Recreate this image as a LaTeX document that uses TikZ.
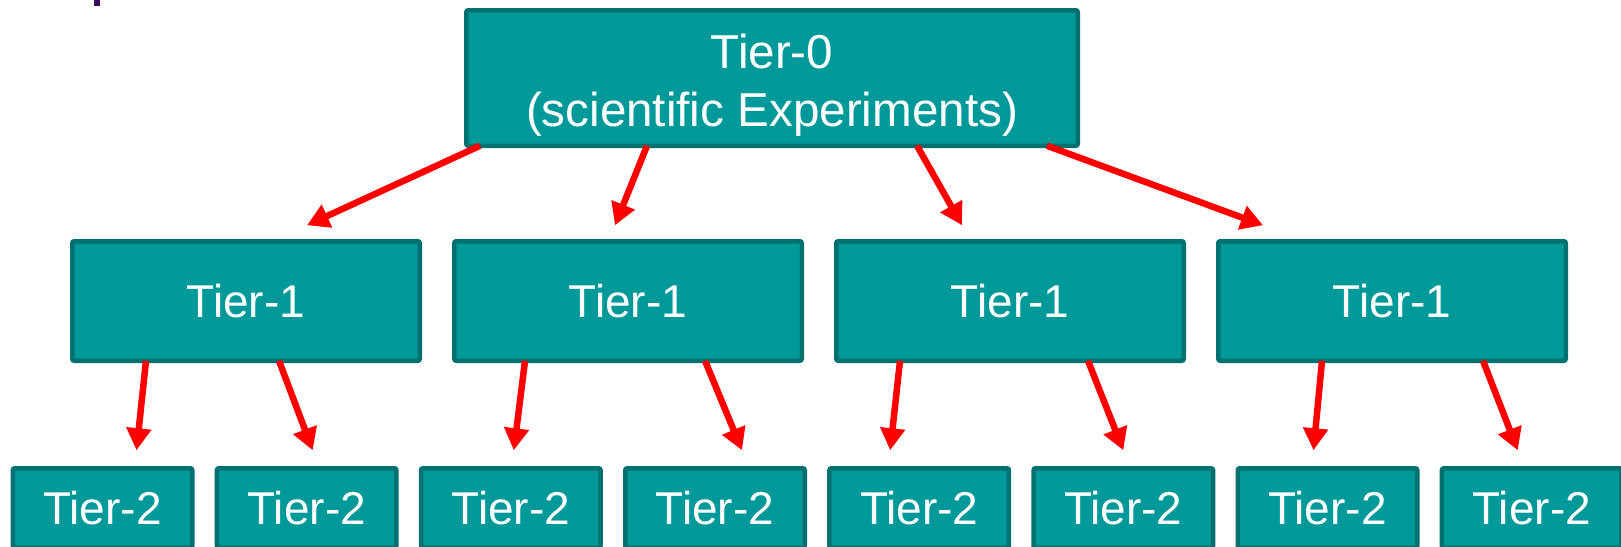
\documentclass[tikz,border=0pt]{standalone}
\usepackage{fontspec}
\setmainfont{Liberation Sans}
\usetikzlibrary{arrows.meta}
\definecolor{tierfill}{RGB}{0,153,153}
\definecolor{tierline}{RGB}{0,112,112}
\definecolor{titlepurple}{RGB}{58,10,92}

\begin{document}
\begin{tikzpicture}[x=0.5pt,y=-0.5pt,
  tier/.style={draw=tierline,fill=tierfill,line width=2.25pt,rounded corners=1pt,
    text=white,font=\fontsize{23pt}{28.5pt}\selectfont,inner sep=0pt,outer sep=0pt},
  tierzero/.style={tier,minimum width=305.75pt,minimum height=67.75pt},
  tierone/.style={tier,minimum width=173.75pt,minimum height=59.75pt},
  tiertwo/.style={tier,minimum width=89.75pt,minimum height=39.75pt},
  tiertext/.style={text=white,font=\fontsize{23.8pt}{29pt}\selectfont,align=center},
  link/.style={red,line width=3.25pt,-{Triangle[length=11pt,width=12pt]}}]
\useasboundingbox (0,0) rectangle (1621,546);
\clip (0,0) rectangle (1621,546);
\fill[titlepurple] (94,0) rectangle (100,6);
% top
\node[tierzero] (t0) at (772,78) {};
\node[tiertext,yshift=-3.5pt] (t0text) at (t0) {Tier-0\\(scientific Experiments)};
% tier 1
\node[tierone] (t1a) at (246,301) {Tier-1};
\node[tierone] (t1b) at (628,301) {Tier-1};
\node[tierone] (t1c) at (1010,301) {Tier-1};
\node[tierone] (t1d) at (1392,301) {Tier-1};
% tier 2
\node[tiertwo] (t2a) at (102.5,508) {Tier-2};
\node[tiertwo] (t2b) at (306.7,508) {Tier-2};
\node[tiertwo] (t2c) at (510.8,508) {Tier-2};
\node[tiertwo] (t2d) at (715,508) {Tier-2};
\node[tiertwo] (t2e) at (919.2,508) {Tier-2};
\node[tiertwo] (t2f) at (1123.3,508) {Tier-2};
\node[tiertwo] (t2g) at (1327.5,508) {Tier-2};
\node[tiertwo] (t2h) at (1531.7,508) {Tier-2};
% arrows
\draw[link] ([xshift=-146pt]t0.south) -- ([xshift=30.5pt,yshift=8pt]t1a.north);
\draw[link] ([xshift=-62.5pt]t0.south) -- ([xshift=-6.5pt,yshift=8pt]t1b.north);
\draw[link] ([xshift=72.5pt]t0.south) -- ([xshift=-24pt,yshift=8pt]t1c.north);
\draw[link] ([xshift=137.5pt]t0.south) -- ([xshift=-64.5pt,yshift=8pt]t1d.north);
\draw[link] ([xshift=-50pt]t1a.south) -- ([xshift=17pt,yshift=9pt]t2a.north);
\draw[link] ([xshift=16.5pt]t1a.south) -- ([xshift=3pt,yshift=9pt]t2b.north);
\draw[link] ([xshift=-51.5pt]t1b.south) -- ([xshift=1.5pt,yshift=9pt]t2c.north);
\draw[link] ([xshift=38.5pt]t1b.south) -- ([xshift=13.5pt,yshift=9pt]t2d.north);
\draw[link] ([xshift=-55pt]t1c.south) -- ([xshift=-14.5pt,yshift=9pt]t2e.north);
\draw[link] ([xshift=39pt]t1c.south) -- ([xshift=0pt,yshift=9pt]t2f.north);
\draw[link] ([xshift=-35pt]t1d.south) -- ([xshift=-7pt,yshift=9pt]t2g.north);
\draw[link] ([xshift=45.5pt]t1d.south) -- ([xshift=-7pt,yshift=9pt]t2h.north);
\end{tikzpicture}
\end{document}
